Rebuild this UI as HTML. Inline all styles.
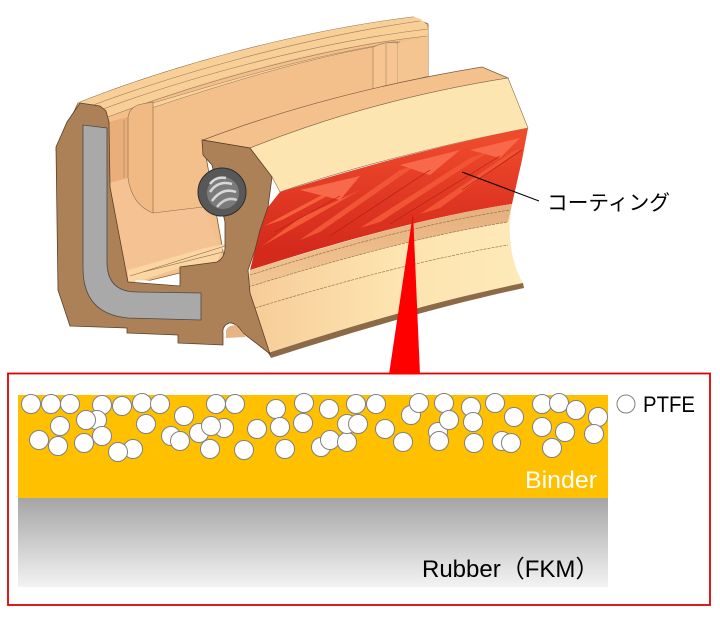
<!DOCTYPE html>
<html>
<head>
<meta charset="utf-8">
<style>
  html,body{margin:0;padding:0;background:#fff;}
  body{width:720px;height:620px;overflow:hidden;}
  svg{display:block;}
  text{font-family:"Liberation Sans","Noto Sans CJK JP",sans-serif;}
</style>
</head>
<body>
<svg width="720" height="620" viewBox="0 0 720 620" xmlns="http://www.w3.org/2000/svg">
  <defs>
    <linearGradient id="rub" x1="0" y1="0" x2="0" y2="1">
      <stop offset="0" stop-color="#a5a5a5"/>
      <stop offset="1" stop-color="#f3f3f3"/>
    </linearGradient>
    <linearGradient id="coat" gradientUnits="userSpaceOnUse" x1="0" y1="140" x2="0" y2="250">
      <stop offset="0" stop-color="#ee4a2c"/>
      <stop offset="0.45" stop-color="#e23a24"/>
      <stop offset="1" stop-color="#d42a1c"/>
    </linearGradient>
    <linearGradient id="lowface" gradientUnits="userSpaceOnUse" x1="250" y1="0" x2="525" y2="0">
      <stop offset="0" stop-color="#f6cc98"/>
      <stop offset="0.5" stop-color="#fde3af"/>
      <stop offset="1" stop-color="#fdeab8"/>
    </linearGradient>
    <linearGradient id="band" gradientUnits="userSpaceOnUse" x1="0" y1="200" x2="0" y2="290">
      <stop offset="0" stop-color="#e4ad7c"/>
      <stop offset="1" stop-color="#f3c894"/>
    </linearGradient>
  </defs>

  <!-- Seal body (back) -->
  <path d="M78,103 C160,70 290,32 413,17 L428,24 L428,76 L203,140 L225,262 L110,290 L56,150 Z" fill="#f3bf8b" stroke="#7a5a3a" stroke-width="0.8"/>
  <path d="M78,103 C160,70 290,32 413,17 Q424,18 428,28 L428,36 C320,46 190,84 108,117 L102,107 Z" fill="#f9cf98"/>
  <path d="M88,107 C170,76 300,38 420,21" fill="none" stroke="#9a7a58" stroke-width="0.6"/>
  <path d="M98,111 C180,80 310,43 428,29" fill="none" stroke="#9a7a58" stroke-width="0.6"/>
  <path d="M108,117 C190,86 320,47 428,36" fill="none" stroke="#9a7a58" stroke-width="0.6"/>
  <path d="M128,116 C210,88 300,60 373,47 Q386,41 400,42 C310,55 225,82 153,103 Q136,106 128,116 Z" fill="#fad29c" stroke="#9a7a58" stroke-width="0.5"/>
  <path d="M373,47 Q386,41 398,43 L398,84 L373,90 Z" fill="#f6c592" stroke="#8a6a4a" stroke-width="0.5"/>
  <path d="M398,43 L428,36 L428,76 L398,84 Z" fill="#f5c591"/>
  <path d="M386,44 L386,87" stroke="#9a7a58" stroke-width="0.5"/>
  <path d="M109,122 L128,117 L128,178 L110,183 Z" fill="#eaae7a"/>
  <path d="M124,120 L124,178" stroke="#9a7a58" stroke-width="0.5"/>
  <path d="M110,183 L128,178 Q132,205 153,213 L203,206 L225,262 L128,282 Z" fill="#f5c293"/>
  <path d="M153,213 L203,207" stroke="#8a6a4a" stroke-width="0.6"/>
  <path d="M128,117 Q130,106 142,104 L153,102 L153,213 Q132,205 128,178 Z" fill="#f1b984" stroke="#8a6a4a" stroke-width="0.6"/>
  <path d="M128,270 L205,248 L225,244 L217,262 L182,267 L140,281 L128,282 Z" fill="#fbd5a2"/>
  <path d="M130,276 L225,246" stroke="#8a6a4a" stroke-width="0.6"/>
  <path d="M143,272 L223,252" stroke="#8a6a4a" stroke-width="0.6"/>
  <path d="M136,280 L180,282 L180,286 L134,285 Z" fill="#ffffff"/>

  <!-- Lip -->
  <path d="M203,140 Q330,92 482,67 L508,78 Q370,100 250,148 Z" fill="#f4c18c" stroke="#7a5a3a" stroke-width="0.7"/>
  <path d="M250,148 Q370,100 508,78 L528,128 C440,145 350,168 280,192 L272,177 Z" fill="#fde5b2" stroke="#8a6a4a" stroke-width="0.6"/>

  <!-- coating -->
  <path d="M280,192 C350,170 440,145 528,128 L522,160 L512,204 C440,215 360,235 250,270 L255,250 L260,230 L268,207 Z" fill="url(#coat)"/>
  <path d="M264,226 L335,188 L350,184 L282,220 Z" fill="#f6623c"/>
  <path d="M262,246 L300,218 L360,190 L305,222 Z" fill="#f45a36"/>
  <path d="M300,240 L400,170 L418,164 L320,232 Z" fill="#f25535"/>
  <path d="M360,228 L470,158 L488,152 L380,222 Z" fill="#f25535"/>
  <path d="M420,214 L512,152 L522,148 L440,208 Z" fill="#f25535"/>
  <path d="M300,190 L360,176 L340,200 Z" fill="#f7694a"/>
  <path d="M400,165 L460,150 L430,175 Z" fill="#f7694a"/>
  <path d="M470,150 L520,138 L500,158 Z" fill="#f7694a"/>
  <path d="M275,232 L340,196 M330,236 L430,170 M390,224 L500,156 M462,190 L522,150" stroke="#b81e12" stroke-width="0.7" fill="none"/>

  <!-- lower face -->
  <path d="M250,270 C330,246 420,218 512,204 C507,230 510,262 523,283 C440,300 350,326 268,353 L258,320 L250,293 L248,287 Z" fill="url(#lowface)"/>
  <path d="M250,270 C330,246 420,218 512,204 L508,222 C420,236 330,262 248,287 Z" fill="url(#band)"/>
  <path d="M250,275 C330,250 420,224 510,210" fill="none" stroke="#8a6a4a" stroke-width="0.6" stroke-dasharray="3,1"/>
  <path d="M248,287 C330,262 420,236 508,222" fill="none" stroke="#8a6a4a" stroke-width="0.6" stroke-dasharray="3,1"/>
  <path d="M255,308 C340,282 430,258 508,245" fill="none" stroke="#8a6a4a" stroke-width="0.6" stroke-dasharray="3,1"/>
  <path d="M268,353 C350,326 440,300 523,283 L524,288 C440,306 352,332 271,358 Z" fill="#8c6a48"/>

  <!-- Cross-section -->
  <path d="M80,103 L100,106 L106,111 L109,122 L110,187 L128,282 L180,286 L180,267 L217,262 Q225,258 225,247 L225,222 L212,165 L203,155 L202,140 L250,148 L272,177 L268,207 L260,230 L255,250 L248,270 L250,293 L258,317 L270,354 L243,333 Q236,322 229,323 Q222,326 223,333 L223,345 L178,343 L178,335 L127,333 L127,328 L70,326 L58,290 L56,147 L67,122 Z" fill="#ad8158" stroke="#5a4028" stroke-width="0.8"/>
  <path d="M226,330 Q229,325 236,325 L243,333 L246,337 L226,338 Z" fill="#e6b585"/>

  <!-- metal insert -->
  <path d="M83,125 L107,128 L107,262 Q107,292 137,292 L201,293 L201,320 L128,318 Q83,314 83,268 Z" fill="#a9a9a9" stroke="#4a4a4a" stroke-width="0.8"/>

  <!-- spring -->
  <circle cx="222" cy="192" r="24" fill="#585858" stroke="#2e2e2e" stroke-width="1"/>
  <circle cx="223" cy="193" r="16" fill="#7b7b7b"/>
  <path d="M210,184 Q216,176 226,178" fill="none" stroke="#d9d9d9" stroke-width="2.5"/>
  <path d="M210,192 Q218,180 232,184" fill="none" stroke="#d9d9d9" stroke-width="2.5"/>
  <path d="M212,201 Q222,187 236,192" fill="none" stroke="#d9d9d9" stroke-width="2.5"/>
  <path d="M217,207 Q226,196 237,200" fill="none" stroke="#cfcfcf" stroke-width="2.5"/>

  <!-- leader + label -->
  <line x1="462" y1="172" x2="539" y2="201" stroke="#000" stroke-width="1"/>
  <text x="547" y="210" font-size="21" fill="#000" textLength="123" lengthAdjust="spacingAndGlyphs" style="font-family:'Noto Sans CJK JP','Liberation Sans',sans-serif;">コーティング</text>

  <!-- Detail box -->
  <rect x="8" y="373.5" width="702" height="231.5" fill="#fff" stroke="#e00000" stroke-width="1.8"/>
  <rect x="18" y="395" width="590" height="103" fill="#ffc000"/>
  <rect x="18" y="498" width="590" height="89" fill="url(#rub)"/>

  <g fill="#ffffff" stroke="#808080" stroke-width="1">
    <circle cx="31" cy="404" r="9.5"/>
    <circle cx="51" cy="404" r="9.5"/>
    <circle cx="70" cy="404" r="9.5"/>
    <circle cx="102" cy="405" r="9.5"/>
    <circle cx="122" cy="406" r="9.5"/>
    <circle cx="142" cy="403" r="9.5"/>
    <circle cx="160" cy="404" r="9.5"/>
    <circle cx="184" cy="416" r="9.5"/>
    <circle cx="216" cy="404" r="9.5"/>
    <circle cx="235" cy="404" r="9.5"/>
    <circle cx="276" cy="409" r="9.5"/>
    <circle cx="304" cy="403" r="9.5"/>
    <circle cx="329" cy="409" r="9.5"/>
    <circle cx="356" cy="404" r="9.5"/>
    <circle cx="60" cy="426" r="9.5"/>
    <circle cx="97" cy="420" r="9.5"/>
    <circle cx="86" cy="420" r="9.5"/>
    <circle cx="146" cy="424" r="9.5"/>
    <circle cx="39" cy="440" r="9.5"/>
    <circle cx="58" cy="446" r="9.5"/>
    <circle cx="84" cy="443" r="9.5"/>
    <circle cx="102" cy="436" r="9.5"/>
    <circle cx="133" cy="449" r="9.5"/>
    <circle cx="118" cy="452" r="9.5"/>
    <circle cx="171" cy="436" r="9.5"/>
    <circle cx="180" cy="441" r="9.5"/>
    <circle cx="199" cy="433" r="9.5"/>
    <circle cx="224" cy="428" r="9.5"/>
    <circle cx="211" cy="426" r="9.5"/>
    <circle cx="210" cy="449" r="9.5"/>
    <circle cx="244" cy="450" r="9.5"/>
    <circle cx="257" cy="429" r="9.5"/>
    <circle cx="280" cy="427" r="9.5"/>
    <circle cx="285" cy="449" r="9.5"/>
    <circle cx="303" cy="423" r="9.5"/>
    <circle cx="321" cy="447" r="9.5"/>
    <circle cx="330" cy="440" r="9.5"/>
    <circle cx="347" cy="442" r="9.5"/>
    <circle cx="347" cy="424" r="9.5"/>
    <circle cx="358" cy="424" r="9.5"/>
    <circle cx="376" cy="404" r="9.5"/>
    <circle cx="385" cy="429" r="9.5"/>
    <circle cx="403" cy="442" r="9.5"/>
    <circle cx="411" cy="415" r="9.5"/>
    <circle cx="419" cy="403" r="9.5"/>
    <circle cx="438" cy="432" r="9.5"/>
    <circle cx="439" cy="441" r="9.5"/>
    <circle cx="444" cy="403" r="9.5"/>
    <circle cx="449" cy="420" r="9.5"/>
    <circle cx="471" cy="407" r="9.5"/>
    <circle cx="473" cy="422" r="9.5"/>
    <circle cx="474" cy="443" r="9.5"/>
    <circle cx="495" cy="403" r="9.5"/>
    <circle cx="514" cy="417" r="9.5"/>
    <circle cx="502" cy="441" r="9.5"/>
    <circle cx="511" cy="443" r="9.5"/>
    <circle cx="542" cy="404" r="9.5"/>
    <circle cx="559" cy="403" r="9.5"/>
    <circle cx="576" cy="410" r="9.5"/>
    <circle cx="598" cy="417" r="9.5"/>
    <circle cx="542" cy="427" r="9.5"/>
    <circle cx="565" cy="432" r="9.5"/>
    <circle cx="594" cy="434" r="9.5"/>
    <circle cx="552" cy="448" r="9.5"/>
  </g>

  <!-- legend -->
  <circle cx="626" cy="404" r="9" fill="#fff" stroke="#808080" stroke-width="1"/>
  <text x="643" y="412" font-size="22" fill="#000" textLength="52" lengthAdjust="spacingAndGlyphs">PTFE</text>

  <text x="525" y="488" font-size="24" fill="#ffffff" textLength="72" lengthAdjust="spacingAndGlyphs">Binder</text>
  <text x="422" y="577" font-size="24" fill="#000">Rubber（FKM）</text>

  <!-- red pointer -->
  <polygon points="413,213 389,374.5 420,374.5" fill="#ff0000"/>
</svg>
</body>
</html>
